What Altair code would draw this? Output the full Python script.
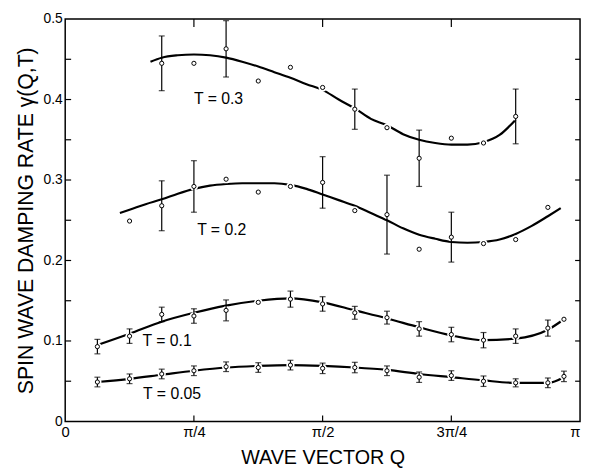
import math
import altair as alt
import pandas as pd

PI = math.pi
FONT = "Liberation Sans"

# Q positions are given in units of pi/16
k_low = [1, 2, 3, 4, 5, 6, 7, 8, 9, 10, 11, 12, 13, 14, 15, 15.5]
t005_val = [0.049, 0.053, 0.059, 0.063, 0.068, 0.067, 0.070, 0.066, 0.067, 0.063, 0.055, 0.057, 0.050, 0.048, 0.048, 0.056]
t005_err = [0.006, 0.006, 0.006, 0.006, 0.006, 0.006, 0.006, 0.0065, 0.0065, 0.006, 0.0065, 0.006, 0.0065, 0.005, 0.006, 0.0065]
t01_val = [0.093, 0.106, 0.133, 0.131, 0.138, 0.148, 0.152, 0.146, 0.135, 0.129, 0.115, 0.108, 0.101, 0.106, 0.116, 0.127]
t01_err = [0.009, 0.009, 0.009, 0.009, 0.013, 0, 0.010, 0.009, 0.008, 0.008, 0.009, 0.009, 0.0095, 0.009, 0.010, 0]

k_t02 = [2, 3, 4, 5, 6, 7, 8, 9, 10, 11, 12, 13, 14, 15]
t02_val = [0.249, 0.268, 0.292, 0.301, 0.285, 0.292, 0.297, 0.262, 0.257, 0.214, 0.229, 0.221, 0.226, 0.266]
t02_err = [0, 0.031, 0.032, 0, 0, 0, 0.032, 0, 0.049, 0, 0.031, 0, 0, 0]

k_t03 = [3, 4, 5, 6, 7, 8, 9, 10, 11, 12, 13, 14]
t03_val = [0.445, 0.445, 0.463, 0.423, 0.440, 0.415, 0.388, 0.365, 0.327, 0.352, 0.346, 0.379]
t03_err = [0.034, 0, 0.035, 0, 0, 0, 0.025, 0, 0.035, 0, 0, 0.034]

# fitted curves
c005_k = [1, 2, 3, 4, 5, 6, 7, 8, 9, 10, 11, 12, 13, 14, 15, 15.5]
c005_v = [0.049, 0.053, 0.058, 0.063, 0.067, 0.069, 0.070, 0.069, 0.067, 0.064, 0.059, 0.055, 0.051, 0.048, 0.048, 0.055]
c01_k = [1, 2, 3, 4, 5, 6, 7, 8, 9, 10, 11, 12, 13, 14, 15, 15.5]
c01_v = [0.095, 0.109, 0.124, 0.135, 0.144, 0.150, 0.153, 0.148, 0.138, 0.128, 0.117, 0.107, 0.101, 0.103, 0.114, 0.127]
c02_k = [1.7, 2, 2.5, 3, 3.5, 4, 4.5, 5, 5.5, 6, 6.5, 7, 7.5, 8, 8.5, 9, 9.5, 10, 10.5, 11, 11.5, 12, 12.5, 13, 13.5, 14, 14.5, 15, 15.4]
c02_v = [0.259, 0.263, 0.270, 0.276, 0.283, 0.289, 0.293, 0.295, 0.296, 0.296, 0.296, 0.294, 0.289, 0.282, 0.275, 0.268, 0.259, 0.250, 0.240, 0.232, 0.227, 0.223, 0.222, 0.223, 0.226, 0.233, 0.243, 0.255, 0.265]
c03_k = [2.65, 3, 3.5, 4, 4.5, 5, 5.5, 6, 6.5, 7, 7.5, 8, 8.5, 9, 9.5, 10, 10.5, 11, 11.5, 12, 12.5, 13, 13.5, 14]
c03_v = [0.447, 0.452, 0.455, 0.456, 0.455, 0.452, 0.447, 0.441, 0.434, 0.427, 0.419, 0.412, 0.400, 0.389, 0.376, 0.368, 0.357, 0.350, 0.346, 0.344, 0.344, 0.347, 0.356, 0.375]

labels = ["T = 0.05", "T = 0.1", "T = 0.2", "T = 0.3"]
label_k = [2.42, 2.4, 4.1, 4.0]
label_v = [0.034, 0.100, 0.238, 0.400]

y_tick_vals = [0.05, 0.1, 0.15, 0.2, 0.25, 0.3, 0.35, 0.4, 0.45]
x_tick_vals = [PI / 4, PI / 2, 3 * PI / 4]

# ---- tables ----
def pts(ks, vals, errs, name):
    return pd.DataFrame({"Q": [k * PI / 16 for k in ks], "v": vals, "err": errs, "s": name})

P = pd.concat([pts(k_low, t005_val, t005_err, "0.05"), pts(k_low, t01_val, t01_err, "0.1"),
               pts(k_t02, t02_val, t02_err, "0.2"), pts(k_t03, t03_val, t03_err, "0.3")], ignore_index=True)
E = P[P["err"] > 0].copy()
E["lo"] = E["v"] - E["err"]
E["hi"] = E["v"] + E["err"]

def crv(ks, vals, name):
    return pd.DataFrame({"Q": [k * PI / 16 for k in ks], "v": vals, "s": name})

C = pd.concat([crv(c005_k, c005_v, "0.05"), crv(c01_k, c01_v, "0.1"),
               crv(c02_k, c02_v, "0.2"), crv(c03_k, c03_v, "0.3")], ignore_index=True)
L = pd.DataFrame({"Q": [k * PI / 16 for k in label_k], "v": label_v, "t": labels})
YT = pd.DataFrame({"v": y_tick_vals})
XT = pd.DataFrame({"Q": x_tick_vals})

W, H = 522, 408
xs = alt.Scale(domain=[0, PI], nice=False, zero=False)
ys = alt.Scale(domain=[0, 0.5], nice=False, zero=False)

x_axis = alt.Axis(values=[0, PI / 4, PI / 2, 3 * PI / 4, PI],
                  labelExpr="['0','π/4','π/2','3π/4','π'][round(datum.value*4/PI)]",
                  labelAlign={"condition": {"test": "datum.value > 3", "value": "right"}, "value": "center"},
                  ticks=False, domain=False, grid=False, labelFlush=False, labelOverlap=False,
                  labelFontSize=15, labelPadding=3, labelFont=FONT, labelColor="black",
                  title="WAVE VECTOR Q", titleFontSize=20, titleFontWeight="normal",
                  titleFont=FONT, titleColor="black", titlePadding=9)
y_axis = alt.Axis(values=[0, 0.1, 0.2, 0.3, 0.4, 0.5],
                  labelExpr="datum.value == 0 ? '0' : format(datum.value, '.1f')",
                  ticks=False, domain=False, grid=False, labelFlush=False, labelOverlap=False,
                  labelFontSize=14, labelPadding=3, labelFont=FONT, labelColor="black",
                  title="SPIN WAVE DAMPING RATE γ(Q,T)", titleFontSize=21.5, titleFontWeight="normal",
                  titleFont=FONT, titleColor="black", titlePadding=6)


def X(f="Q"):
    return alt.X(f + ":Q", scale=xs, axis=x_axis)


def Y(f="v"):
    return alt.Y(f + ":Q", scale=ys, axis=y_axis)


curves = alt.Chart(C).mark_line(color="black", strokeWidth=2.2, interpolate="monotone").encode(
    x=X(), y=Y(), detail="s:N")
halo = alt.Chart(P).mark_circle(color="white", opacity=1, size=70).encode(x=X(), y=Y())
bars = alt.Chart(E).mark_rule(color="black", strokeWidth=1.2).encode(x=X(), y=Y("lo"), y2="hi:Q")
cap_lo = alt.Chart(E).mark_tick(color="black", thickness=1.2, size=6, orient="horizontal").encode(
    x=X(), y=Y("lo"))
cap_hi = alt.Chart(E).mark_tick(color="black", thickness=1.2, size=6, orient="horizontal").encode(
    x=X(), y=Y("hi"))
marks = alt.Chart(P).mark_point(shape="circle", filled=False, fill="white", fillOpacity=1,
                                stroke="black", strokeWidth=1, size=18, opacity=1).encode(x=X(), y=Y())
texts = alt.Chart(L).mark_text(align="left", baseline="middle", fontSize=16, font=FONT, color="black").encode(
    x=X(), y=Y(), text="t:N")

yt_left = alt.Chart(YT).mark_rule(color="black", strokeWidth=1.2).encode(
    y=Y(), x=alt.value(0), x2=alt.value(6))
yt_right = alt.Chart(YT).mark_rule(color="black", strokeWidth=1.2).encode(
    y=Y(), x=alt.value(W - 5), x2=alt.value(W))
xt_top = alt.Chart(XT).mark_rule(color="black", strokeWidth=1.2).encode(
    x=X(), y=alt.value(0), y2=alt.value(8))
xt_bot = alt.Chart(XT).mark_rule(color="black", strokeWidth=1.2).encode(
    x=X(), y=alt.value(H - 6), y2=alt.value(H))

chart = alt.layer(curves, halo, bars, cap_lo, cap_hi, marks, texts,
                  yt_left, yt_right, xt_top, xt_bot).properties(
    width=W, height=H,
    autosize=alt.AutoSizeParams(type="none"),
    padding={"left": 58, "top": 8, "right": 3, "bottom": 45},
    background="white",
).configure_view(stroke="black", strokeWidth=1.5)

chart.save("out.html", embed_options={"renderer": "svg", "actions": False})
